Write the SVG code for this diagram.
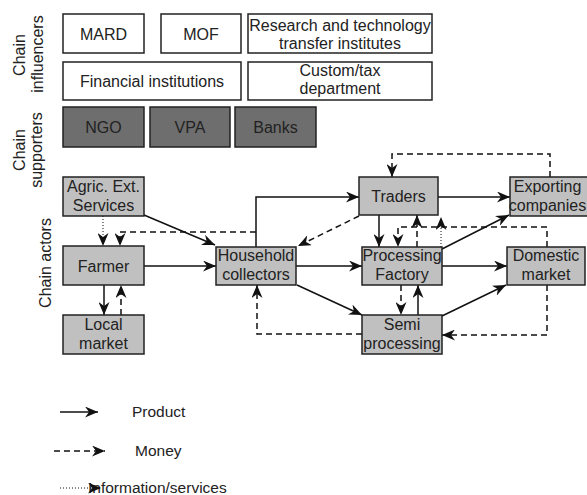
<svg xmlns="http://www.w3.org/2000/svg" width="587" height="495" viewBox="0 0 587 495">
  <style>
    text { font-family: "Liberation Sans", Arial, sans-serif; font-size: 16px; fill: #222; }
    .c { text-anchor: middle; }
    .lbl { font-size: 15.5px; }
    .inf { fill: #ffffff; stroke: #222; stroke-width: 1.5; }
    .sup { fill: #6e6e6e; stroke: #222; stroke-width: 1.5; }
    .act { fill: #c0c0c0; stroke: #222; stroke-width: 1.5; }
    .prod { fill: none; stroke: #111; stroke-width: 1.5; }
    .money { fill: none; stroke: #111; stroke-width: 1.5; stroke-dasharray: 6 4; }
    .info { fill: none; stroke: #111; stroke-width: 1; stroke-dasharray: 1 2; }
  </style>
  <defs>
    <marker id="arr" viewBox="0 0 13 11" refX="13" refY="5.5" markerWidth="13" markerHeight="11" markerUnits="userSpaceOnUse" orient="auto">
      <path d="M0,0 L13,5.5 L0,11 L4,5.5 z" fill="#111" stroke="none"/>
    </marker>
  </defs>

  <rect width="587" height="495" fill="#ffffff"/>

  <!-- row labels -->
  <g id="row-labels">
    <text class="c" transform="translate(25,55) rotate(-90)">Chain</text>
    <text class="c" transform="translate(43,54) rotate(-90)">influencers</text>
    <text class="c" transform="translate(25,150) rotate(-90)">Chain</text>
    <text class="c" transform="translate(42,150) rotate(-90)">supporters</text>
    <text class="c" transform="translate(51,263) rotate(-90)">Chain actors</text>
  </g>

  <!-- chain influencers -->
  <g id="mard"><rect class="inf" x="63" y="14" width="81" height="39"/><text class="c" x="103.5" y="40">MARD</text></g>
  <g id="mof"><rect class="inf" x="161" y="14" width="80" height="39"/><text class="c" x="201" y="40">MOF</text></g>
  <g id="research"><rect class="inf" x="248" y="14" width="184" height="39"/><text class="c" x="340" y="31">Research and technology</text><text class="c" x="340" y="49">transfer institutes</text></g>
  <g id="financial"><rect class="inf" x="63" y="62" width="178" height="38"/><text class="c" x="152" y="87">Financial institutions</text></g>
  <g id="customs"><rect class="inf" x="248" y="62" width="184" height="38"/><text class="c" x="340" y="76">Custom/tax</text><text class="c" x="340" y="94">department</text></g>

  <!-- chain supporters -->
  <g id="ngo"><rect class="sup" x="63" y="107" width="81" height="40"/><text class="c" x="103.5" y="133">NGO</text></g>
  <g id="vpa"><rect class="sup" x="150" y="107" width="80" height="40"/><text class="c" x="190" y="133">VPA</text></g>
  <g id="banks"><rect class="sup" x="235" y="107" width="81" height="40"/><text class="c" x="275.5" y="133">Banks</text></g>

  <!-- connectors -->
  <g id="connectors">
    <!-- product flows -->
    <path class="prod" d="M144,215 L215,245" marker-end="url(#arr)"/>
    <path class="prod" d="M144,266 H216" marker-end="url(#arr)"/>
    <path class="prod" d="M104,285 V315" marker-end="url(#arr)"/>
    <path class="prod" d="M256,247 V197 H359" marker-end="url(#arr)"/>
    <path class="prod" d="M296,266 H362" marker-end="url(#arr)"/>
    <path class="prod" d="M297,285 L362,315" marker-end="url(#arr)"/>
    <path class="prod" d="M438,197 H510" marker-end="url(#arr)"/>
    <path class="prod" d="M379,215 V247" marker-end="url(#arr)"/>
    <path class="prod" d="M442,249 L509,215" marker-end="url(#arr)"/>
    <path class="prod" d="M442,266 H507" marker-end="url(#arr)"/>
    <path class="prod" d="M418,315 V285" marker-end="url(#arr)"/>
    <path class="prod" d="M442,316 L506,285" marker-end="url(#arr)"/>
    <!-- money flows -->
    <path class="money" d="M256,232 H120 V246" marker-end="url(#arr)"/>
    <path class="money" d="M121,315 V285" marker-end="url(#arr)"/>
    <path class="money" d="M359,216 L298,246" marker-end="url(#arr)"/>
    <path class="money" d="M362,334 H257 V285" marker-end="url(#arr)"/>
    <path class="money" d="M550,177 V154 H392 V177" marker-end="url(#arr)"/>
    <path class="money" d="M547,247 V227 H398 V247" marker-end="url(#arr)"/>
    <path class="money" d="M417,247 V215" marker-end="url(#arr)"/>
    <path class="money" d="M401,285 V315" marker-end="url(#arr)"/>
    <path class="money" d="M547,285 V335 H442" marker-end="url(#arr)"/>
    <!-- information / services -->
    <path class="info" d="M103,216 V246" marker-end="url(#arr)"/>
    <path class="info" d="M441,247 V217" marker-end="url(#arr)"/>
  </g>

  <!-- chain actors -->
  <g id="agric-ext"><rect class="act" x="63" y="177" width="81" height="39"/><text class="c" x="103.5" y="192">Agric. Ext.</text><text class="c" x="103.5" y="211">Services</text></g>
  <g id="farmer"><rect class="act" x="63" y="246" width="81" height="39"/><text class="c" x="103.5" y="272">Farmer</text></g>
  <g id="local-market"><rect class="act" x="63" y="315" width="81" height="39"/><text class="c" x="103.5" y="330">Local</text><text class="c" x="103.5" y="349">market</text></g>
  <g id="household"><rect class="act" x="216" y="247" width="80" height="38"/><text class="c" x="256" y="261">Household</text><text class="c" x="256" y="280">collectors</text></g>
  <g id="traders"><rect class="act" x="359" y="177" width="79" height="38"/><text class="c" x="398.5" y="202">Traders</text></g>
  <g id="exporting"><rect class="act" x="510" y="177" width="80" height="39"/><text class="c" x="547.5" y="192">Exporting</text><text class="c" x="547.5" y="211">companies</text></g>
  <g id="processing"><rect class="act" x="362" y="247" width="80" height="38"/><text class="c" x="402" y="261">Processing</text><text class="c" x="402" y="280">Factory</text></g>
  <g id="domestic"><rect class="act" x="507" y="247" width="78" height="38"/><text class="c" x="546" y="261">Domestic</text><text class="c" x="546" y="280">market</text></g>
  <g id="semi"><rect class="act" x="362" y="315" width="80" height="39"/><text class="c" x="402" y="330">Semi</text><text class="c" x="402" y="349">processing</text></g>

  <!-- legend -->
  <g id="legend">
    <path class="prod" d="M60,412 H98" marker-end="url(#arr)"/>
    <text class="lbl" x="132" y="417">Product</text>
    <path class="money" d="M54,451 H105" marker-end="url(#arr)"/>
    <text class="lbl" x="135" y="456">Money</text>
    <text class="lbl" x="88" y="493">Information/services</text>
    <path class="info" d="M60,488 H101" marker-end="url(#arr)"/>
  </g>
</svg>
